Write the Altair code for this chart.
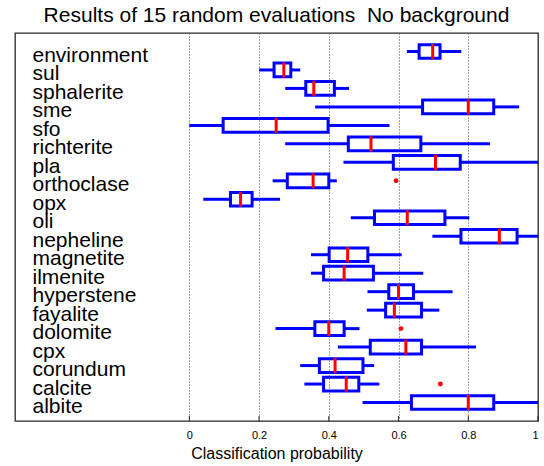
import altair as alt
import pandas as pd

# Box-plot summaries of classification probability per class (top row first)
minerals = [
    "environment", "sul", "sphalerite", "sme", "sfo", "richterite", "pla",
    "orthoclase", "opx", "oli", "nepheline", "magnetite", "ilmenite",
    "hyperstene", "fayalite", "dolomite", "cpx", "corundum", "calcite", "albite",
]
whisker_lo = [0.624, 0.200, 0.275, 0.361, 0.000, 0.275, 0.442, 0.239, 0.040, 0.463,
              0.697, 0.349, 0.349, 0.511, 0.509, 0.247, 0.426, 0.318, 0.330, 0.497]
quart_1 = [0.659, 0.243, 0.334, 0.669, 0.097, 0.456, 0.585, 0.281, 0.118, 0.531,
           0.779, 0.401, 0.385, 0.572, 0.563, 0.360, 0.519, 0.373, 0.385, 0.637]
median = [0.698, 0.271, 0.357, 0.800, 0.249, 0.521, 0.706, 0.355, 0.147, 0.625,
          0.889, 0.454, 0.444, 0.600, 0.588, 0.400, 0.621, 0.418, 0.450, 0.800]
quart_3 = [0.719, 0.291, 0.416, 0.873, 0.398, 0.664, 0.777, 0.400, 0.180, 0.733,
           0.940, 0.512, 0.528, 0.643, 0.666, 0.444, 0.666, 0.498, 0.486, 0.873]
whisker_hi = [0.780, 0.318, 0.458, 0.946, 0.574, 0.862, 1.000, 0.423, 0.260, 0.803,
              1.000, 0.609, 0.671, 0.755, 0.717, 0.488, 0.822, 0.530, 0.545, 1.000]

outlier_mineral = ["orthoclase", "dolomite", "calcite"]
outlier_value = [0.593, 0.607, 0.720]

tick_values = [0, 0.2, 0.4, 0.6, 0.8, 1]

boxes = pd.DataFrame({
    "mineral": minerals, "lo": whisker_lo, "q1": quart_1,
    "med": median, "q3": quart_3, "hi": whisker_hi,
})
outliers = pd.DataFrame({"mineral": outlier_mineral, "value": outlier_value})
ticks = pd.DataFrame({"t": tick_values})

FONT = "Liberation Sans"
BLUE = "#0000ff"
RED = "#ff0000"
PLOT_W, PLOT_H = 523, 388

x_scale = alt.Scale(domain=[-0.5, 1], nice=False, zero=False)
x_axis = alt.Axis(
    values=tick_values, format=".1~f", grid=True, gridDash=[1, 2],
    gridColor="#444444", gridWidth=1, gridOpacity=1, domain=False,
    ticks=False, tickSize=0, labelPadding=8, labelFontSize=11,
    labelFont=FONT, labelColor="black", title="Classification probability",
    titleFont=FONT, titleFontSize=16, titleFontWeight="normal",
    titleColor="black", titleY=32.5, titleBaseline="middle",
)

y_enc = alt.Y(
    "mineral:N", sort=minerals, title=None,
    scale=alt.Scale(paddingInner=0.26, paddingOuter=0.63),
    axis=alt.Axis(
        orient="left", domain=False, ticks=False, tickSize=0, grid=False,
        labelAlign="left", labelPadding=-17, labelBaseline="alphabetic",
        labelOffset=10.5, labelFontSize=21, labelFont=FONT,
        labelColor="black", labelOverlap=False, labelLimit=300,
    ),
)


def xq(field):
    return alt.X(f"{field}:Q", scale=x_scale, axis=x_axis)


base = alt.Chart(boxes)

# short inward tick marks along the bottom edge of the frame
inner_ticks = alt.Chart(ticks).mark_rule(color="#262626", strokeWidth=1).encode(
    x=xq("t"), y=alt.value(PLOT_H - 5), y2=alt.value(PLOT_H))

whisk_low = base.mark_rule(color=BLUE, strokeWidth=3).encode(
    x=xq("lo"), x2="q1:Q", y=y_enc)
whisk_high = base.mark_rule(color=BLUE, strokeWidth=3).encode(
    x=xq("q3"), x2="hi:Q", y=y_enc)
box = base.mark_bar(filled=False, color=BLUE, strokeWidth=3).encode(
    x=xq("q1"), x2="q3:Q", y=y_enc)
med = base.mark_tick(color=RED, thickness=3, size=15, opacity=1).encode(
    x=xq("med"), y=y_enc)
outs = alt.Chart(outliers).mark_circle(color=RED, size=24, opacity=1).encode(
    x=xq("value"), y=y_enc)

chart = (
    alt.layer(whisk_low, whisk_high, box, med, outs, inner_ticks)
    .properties(
        width=PLOT_W, height=PLOT_H,
        title=alt.TitleParams(
            "Results of 15 random evaluations\u00a0 No background",
            font=FONT, fontSize=21, fontWeight="normal", color="black",
            anchor="middle", offset=7,
        ),
        autosize=alt.AutoSizeParams(type="none"),
        padding={"left": 15, "top": 33, "right": 6, "bottom": 45},
        background="white",
    )
    .configure_view(stroke="#262626", strokeWidth=1.3)
)

chart.save("out.html", embed_options={"renderer": "svg", "actions": False})
